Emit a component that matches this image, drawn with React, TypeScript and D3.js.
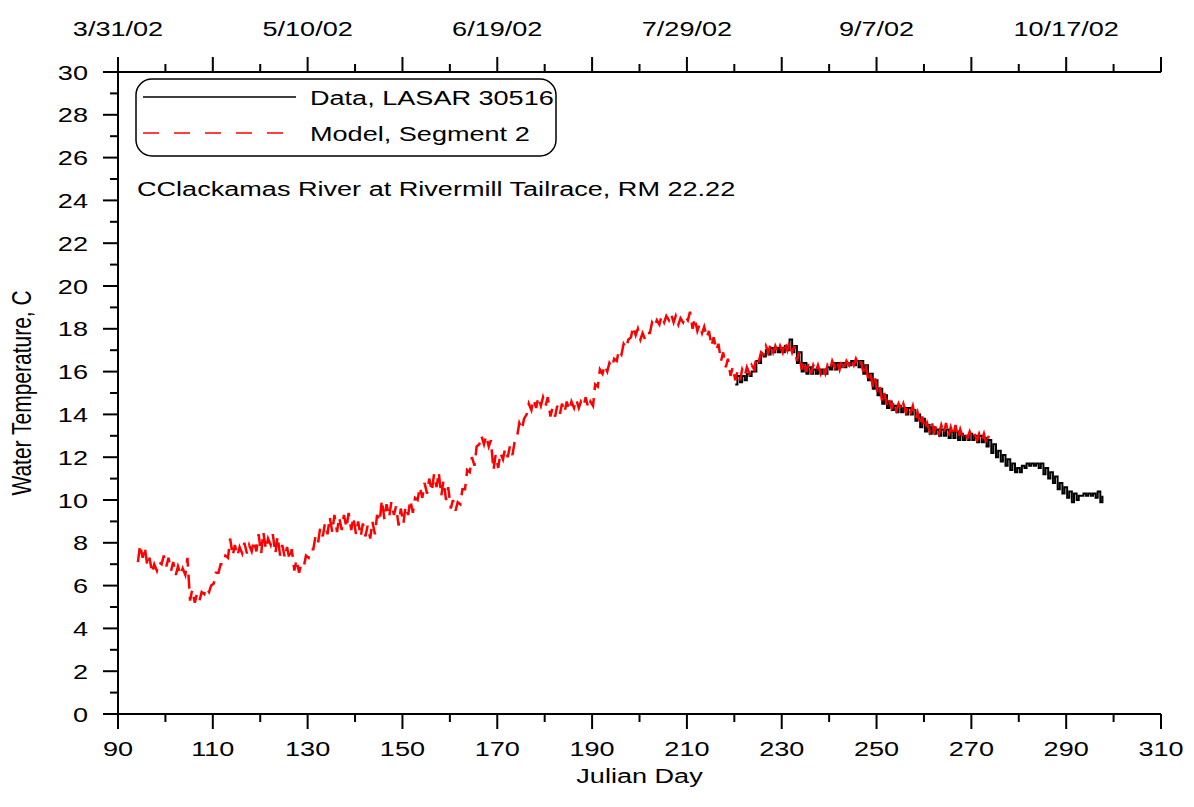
import React from "react";
import * as d3 from "d3";

// Model (red) daily low / high, starting at Julian day 94
const modelStartDay = 94;
const modelLow = [
  7.1, 7.3, 6.9, 6.6, 6.7, 7.0, 6.9, 6.7, 6.5, 6.5, // 94-103
  6.5, 5.3, 5.2, 5.3, 5.6, 5.7, 6.1, 6.6, 7.0, 7.3, // 104-113
  7.4, 7.4, 7.5, 7.5, 7.6, 7.6, 7.5, 7.7, 7.9, 7.5, // 114-123
  7.4, 7.3, 7.2, 6.7, 6.6, 6.9, 7.3, 7.7, 8.0, 8.3, // 124-133
  8.4, 8.5, 8.5, 8.6, 8.7, 8.6, 8.4, 8.3, 8.3, 8.2, // 134-143
  8.4, 9.0, 9.1, 9.2, 9.3, 8.8, 8.9, 9.3, 9.4, 10.0, // 144-153
  10.1, 10.3, 10.4, 10.6, 10.2, 10.0, 9.6, 9.5, 9.8, 10.5, // 154-163
  11.3, 11.6, 12.6, 12.6, 12.5, 11.4, 11.5, 11.9, 12.0, 12.1, // 164-173
  13.0, 13.3, 14.0, 14.2, 14.3, 14.4, 14.4, 13.9, 13.9, 14.0, // 174-183
  14.1, 14.2, 14.3, 14.3, 14.4, 14.3, 14.4, 15.3, 15.9, 16.0, // 184-193
  16.2, 16.5, 16.8, 17.1, 17.6, 17.7, 17.5, 17.5, 17.8, 18.1, // 194-203
  18.2, 18.3, 18.4, 18.3, 18.2, 18.3, 18.4, 18.0, 17.9, 17.8, // 204-213
  17.6, 17.2, 17.0, 16.5, 16.2, 15.8, 15.6, 15.6, 15.8, 15.9, // 214-223
  16.1, 16.5, 16.8, 16.9, 16.9, 16.9, 16.9, 17.0, 16.9, 16.5, // 224-233
  16.1, 16.0, 15.9, 16.0, 15.9, 15.9, 16.1, 16.2, 16.1, 16.2, // 234-243
  16.3, 16.3, 16.3, 16.0, 15.7, 15.3, 15.0, 14.6, 14.4, 14.3, // 244-253
  14.2, 14.2, 14.1, 14.1, 13.8, 13.5, 13.3, 13.2, 13.2, 13.1, // 254-263
  13.1, 13.0, 13.0, 12.9, 12.9, 12.9, 12.9, 12.8, 12.8, 12.6, // 264-273
];
const modelHigh = [
  7.9, 7.8, 7.3, 7.0, 7.1, 7.4, 7.3, 7.1, 6.9, 6.8,
  7.3, 5.8, 5.6, 5.7, 5.9, 6.0, 6.6, 7.0, 7.4, 8.2,
  7.9, 7.8, 8.0, 7.9, 8.1, 8.4, 8.5, 8.2, 8.4, 8.3,
  7.9, 7.8, 7.7, 7.2, 7.0, 7.4, 7.7, 8.3, 8.7, 8.9,
  9.2, 9.3, 9.2, 9.3, 9.4, 9.2, 9.0, 8.9, 8.8, 9.0,
  9.3, 10.0, 9.8, 9.9, 9.7, 9.6, 9.7, 10.0, 10.1, 10.6,
  10.8, 11.0, 11.2, 11.3, 10.9, 10.6, 10.0, 9.9, 10.5, 11.4,
  12.0, 12.5, 13.0, 13.0, 12.8, 12.1, 12.2, 12.4, 12.5, 12.7,
  13.6, 13.8, 14.5, 14.7, 14.8, 14.8, 14.8, 14.3, 14.4, 14.5,
  14.6, 14.6, 14.7, 14.6, 14.8, 14.6, 15.4, 16.1, 16.3, 16.4,
  16.6, 17.0, 17.3, 17.5, 18.1, 18.0, 17.8, 17.8, 18.3, 18.4,
  18.6, 18.6, 18.7, 18.6, 18.5, 18.6, 18.8, 18.5, 18.2, 18.1,
  17.9, 17.6, 17.3, 16.9, 16.6, 16.2, 16.0, 16.1, 16.2, 16.3,
  16.7, 16.9, 17.2, 17.3, 17.2, 17.2, 17.4, 17.4, 17.2, 16.9,
  16.5, 16.4, 16.3, 16.3, 16.2, 16.3, 16.5, 16.5, 16.5, 16.5,
  16.6, 16.6, 16.5, 16.4, 16.0, 15.7, 15.3, 15.0, 14.7, 14.6,
  14.5, 14.5, 14.4, 14.4, 14.1, 13.9, 13.6, 13.6, 13.5, 13.5,
  13.6, 13.4, 13.5, 13.3, 13.1, 13.2, 13.1, 13.1, 13.1, 13.0,
];

// Data (black) daily low / high, starting at Julian day 220
const dataStartDay = 220;
const dataLow = [
  15.4, 15.5, 15.6, 15.8, 16.0, 16.4, 16.7, 16.8, 16.9, 16.9, // 220-229
  16.9, 17.0, 16.9, 16.4, 16.0, 15.9, 15.9, 15.9, 15.9, 15.9, // 230-239
  16.1, 16.1, 16.2, 16.2, 16.3, 16.3, 16.2, 15.9, 15.6, 15.2, // 240-249
  14.9, 14.5, 14.3, 14.2, 14.1, 14.1, 14.0, 14.0, 13.7, 13.4, // 250-259
  13.2, 13.1, 13.1, 13.0, 13.0, 12.9, 12.9, 12.8, 12.8, 12.8, // 260-269
  12.8, 12.7, 12.7, 12.5, 12.2, 12.0, 11.8, 11.6, 11.4, 11.3, // 270-279
  11.3, 11.5, 11.6, 11.6, 11.5, 11.2, 11.0, 10.8, 10.5, 10.3, // 280-289
  10.1, 9.9, 10.0, 10.2, 10.2, 10.2, 10.1, 9.9, // 290-297
];
const dataHigh = [
  15.8, 15.8, 15.9, 16.0, 16.5, 16.8, 17.0, 17.1, 17.1, 17.1,
  17.2, 17.5, 17.2, 16.9, 16.4, 16.2, 16.1, 16.1, 16.1, 16.2,
  16.4, 16.4, 16.4, 16.4, 16.5, 16.5, 16.5, 16.3, 15.9, 15.6,
  15.2, 14.9, 14.6, 14.4, 14.4, 14.3, 14.3, 14.2, 14.0, 13.8,
  13.5, 13.4, 13.3, 13.3, 13.3, 13.2, 13.2, 13.1, 13.0, 13.1,
  13.0, 13.0, 12.9, 12.8, 12.6, 12.3, 12.1, 11.9, 11.7, 11.5,
  11.6, 11.7, 11.7, 11.7, 11.7, 11.5, 11.3, 11.1, 10.8, 10.6,
  10.4, 10.3, 10.2, 10.3, 10.3, 10.3, 10.4, 10.2,
];

const xTickValues = [90, 110, 130, 150, 170, 190, 210, 230, 250, 270, 290, 310];
const xMinorValues = [100, 120, 140, 160, 180, 200, 220, 240, 260, 280, 300];
const yTickValues = [0, 2, 4, 6, 8, 10, 12, 14, 16, 18, 20, 22, 24, 26, 28, 30];
const yMinorValues = [1, 3, 5, 7, 9, 11, 13, 15, 17, 19, 21, 23, 25, 27, 29];
const topDateDays = [90, 130, 170, 210, 250, 290];
const topDateLabels = ["3/31/02", "5/10/02", "6/19/02", "7/29/02", "9/7/02", "10/17/02"];

const legendItems = ["Data, LASAR 30516", "Model, Segment 2"];
const chartTitle = "CClackamas River at Rivermill Tailrace, RM 22.22";
const xAxisTitle = "Julian Day";
const yAxisTitle = "Water Temperature, C";

function buildSeries(start: number, lows: number[], highs: number[]): [number, number][] {
  const pts: [number, number][] = [];
  lows.forEach((lo, i) => {
    pts.push([start + i + 0.2, lo]);
    pts.push([start + i + 0.65, highs[i]]);
  });
  return pts;
}

const FS = 21;
const SX = 1.29; // horizontal stretch of the glyphs

function HText(props: { x: number; y: number; anchor?: string; children: React.ReactNode }) {
  return (
    <text
      transform={`translate(${props.x},${props.y}) scale(${SX},1)`}
      textAnchor={props.anchor || "start"}
      fontSize={FS}
      fill="#000"
    >
      {props.children}
    </text>
  );
}

export default function App() {
  const W = 1194;
  const H = 807;
  const left = 118, right = 1161, top = 72, bottom = 714;
  const x = d3.scaleLinear().domain([90, 310]).range([left, right]);
  const y = d3.scaleLinear().domain([0, 30]).range([bottom, top]);
  const font = "'Liberation Sans', Arial, sans-serif";

  const line = d3
    .line<[number, number]>()
    .x((d) => x(d[0]))
    .y((d) => y(d[1]));
  const stepLine = d3
    .line<[number, number]>()
    .x((d) => x(d[0]))
    .y((d) => y(d[1]))
    .curve(d3.curveStepAfter);

  const model = buildSeries(modelStartDay, modelLow, modelHigh);
  const data = buildSeries(dataStartDay, dataLow, dataHigh);

  return (
    <svg
      width={W}
      height={H}
      style={{ position: "absolute", left: 0, top: 0, background: "#fff" }}
      fontFamily={font}
    >
      <rect x={0} y={0} width={W} height={H} fill="#fff" />
      {/* data */}
      <path d={stepLine(data) || ""} fill="none" stroke="#000" strokeWidth={2} />
      <path
        d={line(model) || ""}
        fill="none"
        stroke="#ff0000"
        strokeWidth={2.5}
        strokeDasharray="14,8"
      />

      {/* axes lines */}
      <line x1={left} x2={right} y1={bottom} y2={bottom} stroke="#000" strokeWidth={2} />
      <line x1={left} x2={right} y1={top} y2={top} stroke="#000" strokeWidth={2} />
      <line x1={left} x2={left} y1={top} y2={bottom} stroke="#000" strokeWidth={2} />

      {/* bottom ticks */}
      {xTickValues.map((v) => (
        <g key={"bx" + v}>
          <line x1={x(v)} x2={x(v)} y1={bottom} y2={bottom + 15} stroke="#000" strokeWidth={2} />
          <HText x={x(v)} y={bottom + 42} anchor="middle">
            {v}
          </HText>
        </g>
      ))}
      {xMinorValues.map((v) => (
        <line key={"bm" + v} x1={x(v)} x2={x(v)} y1={bottom} y2={bottom + 8} stroke="#000" strokeWidth={2} />
      ))}
      <HText x={(left + right) / 2} y={bottom + 69} anchor="middle">
        {xAxisTitle}
      </HText>

      {/* top ticks */}
      {xTickValues.map((v) => (
        <line key={"tx" + v} x1={x(v)} x2={x(v)} y1={top} y2={top - 15} stroke="#000" strokeWidth={2} />
      ))}
      {xMinorValues.map((v) => (
        <line key={"tm" + v} x1={x(v)} x2={x(v)} y1={top} y2={top - 8} stroke="#000" strokeWidth={2} />
      ))}
      {topDateDays.map((v, i) => (
        <HText key={"td" + v} x={x(v)} y={36} anchor="middle">
          {topDateLabels[i]}
        </HText>
      ))}

      {/* left ticks */}
      {yTickValues.map((v) => (
        <g key={"ly" + v}>
          <line x1={left - 15} x2={left} y1={y(v)} y2={y(v)} stroke="#000" strokeWidth={2} />
          <HText x={left - 30} y={y(v) + 7.5} anchor="end">
            {v}
          </HText>
        </g>
      ))}
      {yMinorValues.map((v) => (
        <line key={"lm" + v} x1={left - 8} x2={left} y1={y(v)} y2={y(v)} stroke="#000" strokeWidth={2} />
      ))}
      <text
        transform={`translate(31,${(top + bottom) / 2}) rotate(-90) scale(1,${SX})`}
        textAnchor="middle"
        fontSize={FS}
        fill="#000"
      >
        {yAxisTitle}
      </text>

      {/* legend */}
      <rect x={136} y={79} width={420} height={77} rx={16} ry={16} fill="#fff" stroke="#000" strokeWidth={1.5} />
      <line x1={143} x2={296} y1={97} y2={97} stroke="#000" strokeWidth={1.5} />
      <line x1={143} x2={296} y1={133} y2={133} stroke="#ff0000" strokeWidth={1.5} strokeDasharray="16,15" />
      <HText x={310} y={105}>
        {legendItems[0]}
      </HText>
      <HText x={310} y={141}>
        {legendItems[1]}
      </HText>
      <HText x={137} y={196}>
        {chartTitle}
      </HText>
    </svg>
  );
}
